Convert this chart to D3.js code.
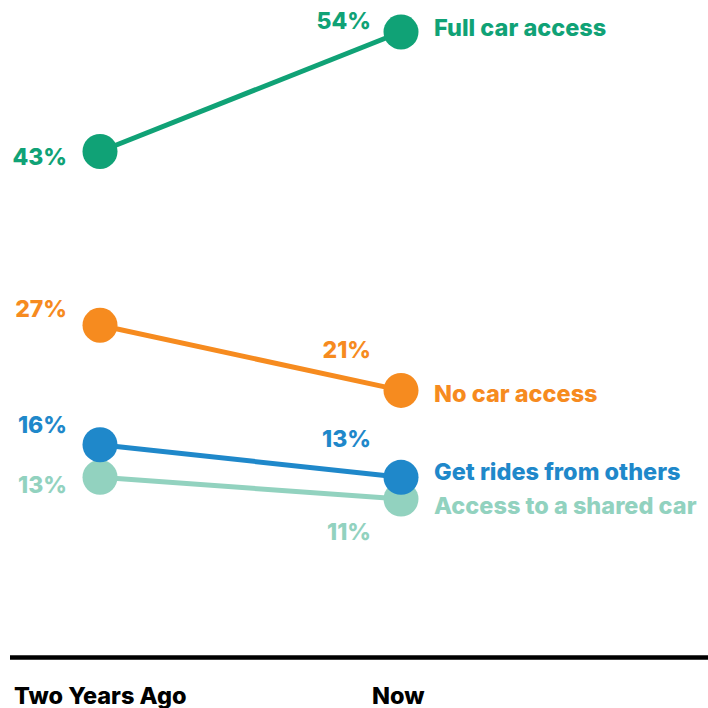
<!DOCTYPE html>
<html>
<head>
<meta charset="utf-8">
<script src="https://cdn.jsdelivr.net/npm/d3@7"></script>
<style>
  html, body { margin: 0; padding: 0; background: #fff; }
  svg { display: block; }
  text { font-family: Inter, "Noto Sans", sans-serif; font-weight: 800; }
</style>
</head>
<body>
<svg id="chart" width="708" height="708"></svg>
<script>
// Periods on the horizontal axis
const periods = ["Two Years Ago", "Now"];

// Series names, drawn bottom layer first
const seriesNames = ["Access to a shared car", "Get rides from others", "No car access", "Full car access"];

// Share of respondents (%) per series: [Two Years Ago, Now]
const sharedCar = [13, 11];
const getRides = [16, 13];
const noCar = [27, 21];
const fullCar = [43, 54];

const seriesValues = [sharedCar, getRides, noCar, fullCar];

// Presentation for each series (same order as seriesNames)
const seriesColors = ["#92d2bf", "#1f88ca", "#f68b1f", "#10a276"];
// Vertical nudges for the value labels (left, right) and the series name, in px
const labelNudges = [
  { left: 16, right: 41, name: 15 },
  { left: -12, right: -30, name: 3 },
  { left: -8, right: -32, name: 12 },
  { left: 14, right: -3, name: 4 }
];

const svg = d3.select("#chart");

const x = d3.scalePoint().domain(periods).range([100, 401]);
const y = d3.scaleLinear().domain([0, 54]).range([618.5, 32]);

const series = seriesNames.map((name, i) => ({
  name,
  color: seriesColors[i],
  nudge: labelNudges[i],
  points: periods.map((p, j) => ({ period: p, value: seriesValues[i][j] }))
}));

// Baseline rule
svg.append("line")
  .attr("x1", 10).attr("x2", 708)
  .attr("y1", 657.5).attr("y2", 657.5)
  .attr("stroke", "#000").attr("stroke-width", 4.5);

// Period labels under the rule
svg.selectAll("text.period")
  .data(periods)
  .join("text")
  .attr("class", "period")
  .attr("x", (d, i) => i === 0 ? 14 : x(d) - 29)
  .attr("y", 704)
  .attr("font-size", 23.5)
  .attr("fill", "#000")
  .text(d => d);

const line = d3.line().x(d => x(d.period)).y(d => y(d.value));

const g = svg.selectAll("g.series")
  .data(series)
  .join("g")
  .attr("class", "series");

g.append("path")
  .attr("d", d => line(d.points))
  .attr("fill", "none")
  .attr("stroke", d => d.color)
  .attr("stroke-width", 5);

g.selectAll("circle")
  .data(d => d.points.map(p => ({ ...p, color: d.color })))
  .join("circle")
  .attr("cx", d => x(d.period))
  .attr("cy", d => y(d.value))
  .attr("r", 17.5)
  .attr("fill", d => d.color);

// Value labels beside each dot
g.append("text")
  .attr("x", 67)
  .attr("y", d => y(d.points[0].value) + d.nudge.left)
  .attr("text-anchor", "end")
  .attr("font-size", 23)
  .attr("fill", d => d.color)
  .text(d => d.points[0].value + "%");

g.append("text")
  .attr("x", 371)
  .attr("y", d => y(d.points[1].value) + d.nudge.right)
  .attr("text-anchor", "end")
  .attr("font-size", 23)
  .attr("fill", d => d.color)
  .text(d => d.points[1].value + "%");

// Series names to the right of the "Now" dots
g.append("text")
  .attr("x", 434)
  .attr("y", d => y(d.points[1].value) + d.nudge.name)
  .attr("font-size", 23.5)
  .attr("fill", d => d.color)
  .text(d => d.name);
</script>
</body>
</html>
